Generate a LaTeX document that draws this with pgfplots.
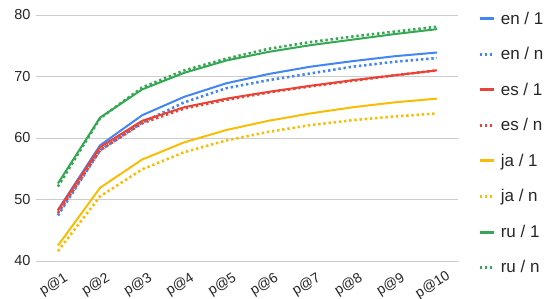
\documentclass[border=0pt]{standalone}
\usepackage{pgfplots}
\pgfplotsset{compat=1.18}
\usepackage{fontspec}
\setmainfont{Liberation Sans}
\definecolor{gblue}{HTML}{4285F4}
\definecolor{gred}{HTML}{EA4335}
\definecolor{gyellow}{HTML}{FBBC04}
\definecolor{ggreen}{HTML}{34A853}
\definecolor{ggrid}{HTML}{CCCCCC}
\begin{document}
\begin{tikzpicture}
\begin{axis}[
  at={(0,0)}, anchor=south west,
  width=422bp, height=246bp, scale only axis,
  xmin=0.48, xmax=10.5, ymin=40, ymax=80,
  ytick={40,50,60,70,80},
  xtick={1,...,10},
  xticklabels={p@1,p@2,p@3,p@4,p@5,p@6,p@7,p@8,p@9,p@10},
  /pgf/number format/assume math mode=true,
  axis line style={draw=none},
  major tick length=0pt,
  ymajorgrids, grid style={ggrid, line width=0.8bp},
  yticklabel style={font=\fontsize{14.5bp}{16bp}\selectfont, text=black!85, xshift=-2bp},
  xticklabel style={font=\fontsize{14bp}{16bp}\selectfont, text=black!85, yshift=-24bp, xshift=-4bp, rotate=32, anchor=center},
  legend style={at={(1.047,1.017)}, anchor=north west, draw=none, fill=none,
    font=\fontsize{17bp}{19bp}\selectfont, row sep=19.7bp, inner sep=0pt,
    nodes={inner sep=1bp, text=black!85}},
  legend cell align=left,
  legend image code/.code={\draw[#1, line width=3bp] (0bp,0bp) -- (14bp,0bp); \path (19bp,0bp);},
  dots/.style={line width=2.6bp, dash pattern=on 2.4bp off 2.8bp},
]
\addplot[gblue, line width=2bp] coordinates {(1,48.3)(2,58.8)(3,63.7)(4,66.7)(5,68.9)(6,70.4)(7,71.6)(8,72.5)(9,73.3)(10,73.9)};
\addlegendentry{en / 1}
\addplot[gblue, dots] coordinates {(1,47.4)(2,58.0)(3,62.5)(4,65.8)(5,68.1)(6,69.4)(7,70.5)(8,71.6)(9,72.4)(10,73.0)};
\addlegendentry{en / n}
\addplot[gred, line width=2bp] coordinates {(1,48.2)(2,58.5)(3,62.8)(4,65.0)(5,66.4)(6,67.5)(7,68.5)(8,69.4)(9,70.2)(10,71.0)};
\addlegendentry{es / 1}
\addplot[gred, dots] coordinates {(1,47.8)(2,58.0)(3,62.4)(4,64.8)(5,66.2)(6,67.4)(7,68.4)(8,69.3)(9,70.2)(10,71.0)};
\addlegendentry{es / n}
\addplot[gyellow, line width=2bp] coordinates {(1,42.5)(2,51.9)(3,56.5)(4,59.3)(5,61.3)(6,62.8)(7,64.0)(8,65.0)(9,65.8)(10,66.4)};
\addlegendentry{ja / 1}
\addplot[gyellow, dots] coordinates {(1,41.6)(2,50.5)(3,54.9)(4,57.7)(5,59.6)(6,61.0)(7,62.1)(8,62.9)(9,63.5)(10,64.0)};
\addlegendentry{ja / n}
\addplot[ggreen, line width=2bp] coordinates {(1,52.6)(2,63.3)(3,67.9)(4,70.6)(5,72.6)(6,74.0)(7,75.1)(8,76.0)(9,76.9)(10,77.7)};
\addlegendentry{ru / 1}
\addplot[ggreen, dots] coordinates {(1,52.1)(2,63.2)(3,68.2)(4,71.0)(5,72.9)(6,74.5)(7,75.6)(8,76.5)(9,77.3)(10,78.1)};
\addlegendentry{ru / n}
\end{axis}
\pgfresetboundingbox
\path[use as bounding box] (-36bp,-38bp) rectangle (521bp,261bp);
\end{tikzpicture}
\end{document}
